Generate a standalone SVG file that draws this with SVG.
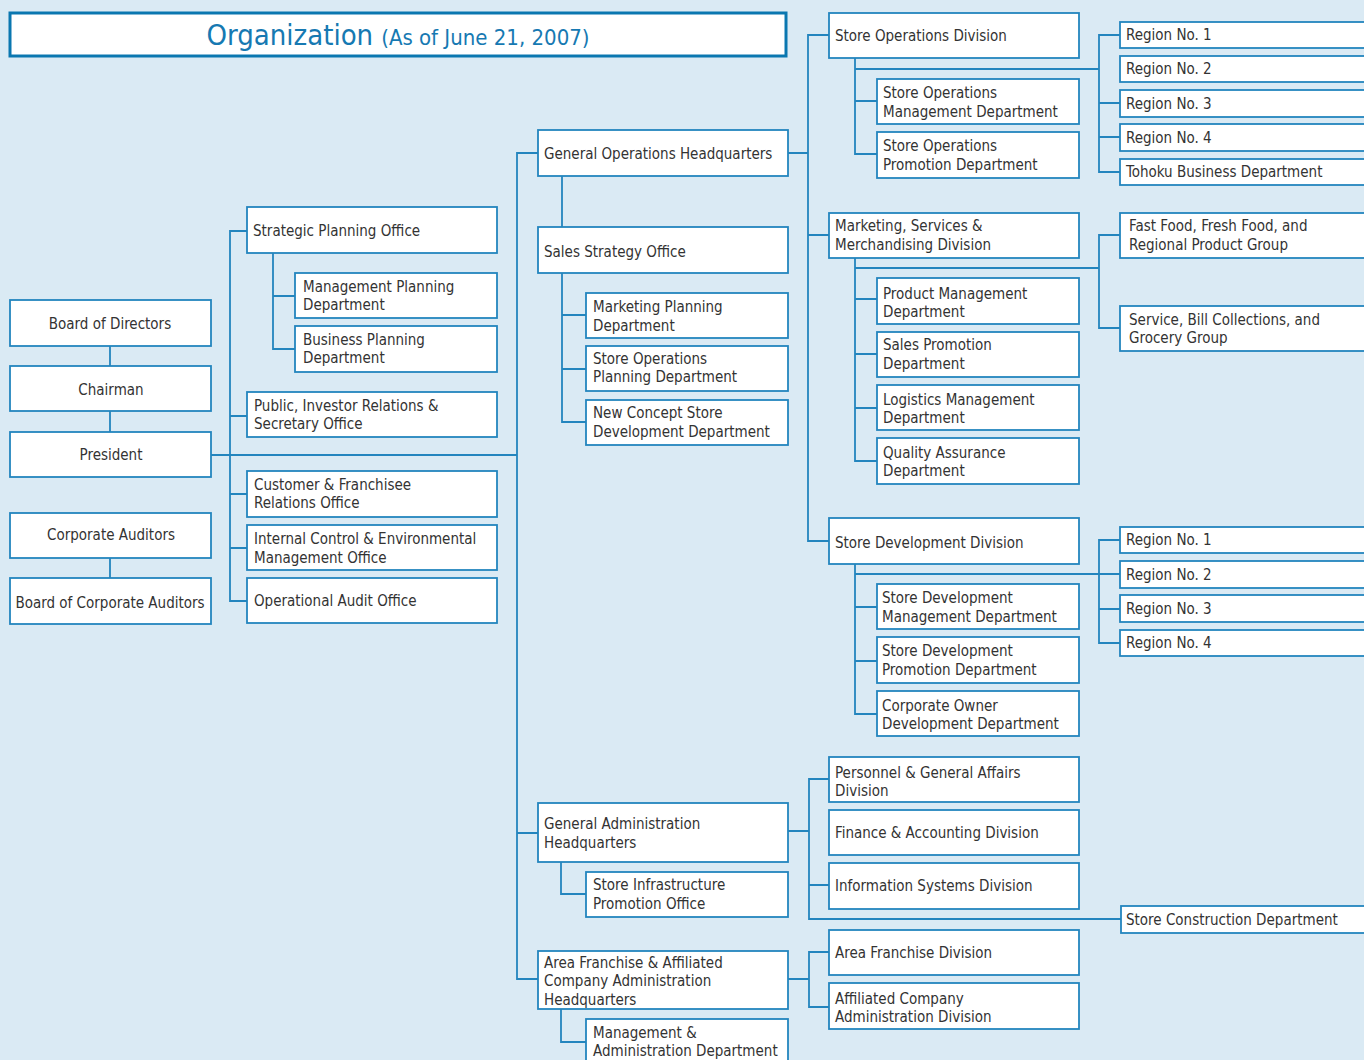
<svg xmlns="http://www.w3.org/2000/svg" width="1364" height="1060" viewBox="0 0 1364 1060">
<style>
.bg{fill:#DAEAF4}
.b{fill:#fff;stroke:#2385BE;stroke-width:1.8}
.ln{fill:none;stroke:#2385BE;stroke-width:1.8}
text{font-family:"DejaVu Sans Condensed","DejaVu Sans",sans-serif;font-stretch:condensed;font-size:15px;fill:#333}
.c{text-anchor:middle}
.title{fill:#1679B2;text-anchor:middle}
</style>
<rect class="bg" x="0" y="0" width="1364" height="1060"/>
<g id="title">
<rect x="10" y="13" width="776" height="43" fill="#fff" stroke="#0A77B0" stroke-width="3"/>
<text class="title" x="398" y="45"><tspan font-size="29px">Organization</tspan><tspan font-size="22px" dx="8">(As of June 21, 2007)</tspan></text>
</g>
<g id="connectors">
<path class="ln" d="M110 346V366M110 411V432M110 558V578M211 455H517"/>
<path class="ln" d="M247 231H230V601H247M230 416H247M230 494H247M230 548H247"/>
<path class="ln" d="M273 253V349H295M273 296H295"/>
<path class="ln" d="M538 153H517V979H538M517 833H538"/>
<path class="ln" d="M562 176V227M562 273V422H586M562 315H586M562 369H586"/>
<path class="ln" d="M788 153H808M829 35H808V541H829M808 235H829"/>
<path class="ln" d="M855 58V154H877M855 101H877M855 69H1099M1120 35H1099V172H1120M1099 103H1120M1099 137H1120"/>
<path class="ln" d="M855 258V461H877M855 299H877M855 354H877M855 408H877M855 268H1099M1120 235H1099V328H1120"/>
<path class="ln" d="M855 564V714H877M855 607H877M855 661H877M855 574H1099M1120 540H1099V643H1120M1099 574H1120M1099 609H1120"/>
<path class="ln" d="M561 862V894H586M788 831H809M829 779H809V919H1121M809 885H829"/>
<path class="ln" d="M788 979H809M829 952H809V1007H829M561 1009V1042H586"/>
</g>
<g id="board-of-directors"><rect class="b" x="10" y="300" width="201" height="46"/><text class="c" x="110" y="329">Board of Directors</text></g>
<g id="chairman"><rect class="b" x="10" y="366" width="201" height="45"/><text class="c" x="111" y="395">Chairman</text></g>
<g id="president"><rect class="b" x="10" y="432" width="201" height="45"/><text class="c" x="111" y="460">President</text></g>
<g id="corporate-auditors"><rect class="b" x="10" y="513" width="201" height="45"/><text class="c" x="111" y="540">Corporate Auditors</text></g>
<g id="board-of-corporate-auditors"><rect class="b" x="10" y="578" width="201" height="46"/><text class="c" x="110" y="608">Board of Corporate Auditors</text></g>

<g id="strategic-planning"><rect class="b" x="247" y="207" width="250" height="46"/><text x="253" y="236">Strategic Planning Office</text></g>
<g id="management-planning"><rect class="b" x="295" y="273" width="202" height="45"/><text x="303"><tspan x="303" y="292">Management Planning</tspan><tspan x="303" y="310">Department</tspan></text></g>
<g id="business-planning"><rect class="b" x="295" y="326" width="202" height="46"/><text><tspan x="303" y="345">Business Planning</tspan><tspan x="303" y="363">Department</tspan></text></g>
<g id="public-relations"><rect class="b" x="247" y="392" width="250" height="45"/><text><tspan x="254" y="411">Public, Investor Relations &amp;</tspan><tspan x="254" y="429">Secretary Office</tspan></text></g>
<g id="customer-relations"><rect class="b" x="247" y="471" width="250" height="46"/><text><tspan x="254" y="490">Customer &amp; Franchisee</tspan><tspan x="254" y="508">Relations Office</tspan></text></g>
<g id="internal-control"><rect class="b" x="247" y="525" width="250" height="45"/><text><tspan x="254" y="544">Internal Control &amp; Environmental</tspan><tspan x="254" y="563">Management Office</tspan></text></g>
<g id="operational-audit"><rect class="b" x="247" y="578" width="250" height="45"/><text x="254" y="606">Operational Audit Office</text></g>

<g id="general-operations-hq"><rect class="b" x="538" y="130" width="250" height="46"/><text x="544" y="159">General Operations Headquarters</text></g>
<g id="sales-strategy"><rect class="b" x="538" y="227" width="250" height="46"/><text x="544" y="257">Sales Strategy Office</text></g>
<g id="marketing-planning"><rect class="b" x="586" y="293" width="202" height="45"/><text><tspan x="593" y="312">Marketing Planning</tspan><tspan x="593" y="331">Department</tspan></text></g>
<g id="store-ops-planning"><rect class="b" x="586" y="346" width="202" height="45"/><text><tspan x="593" y="364">Store Operations</tspan><tspan x="593" y="382">Planning Department</tspan></text></g>
<g id="new-concept-store"><rect class="b" x="586" y="400" width="202" height="45"/><text><tspan x="593" y="418">New Concept Store</tspan><tspan x="593" y="437">Development Department</tspan></text></g>
<g id="general-admin-hq"><rect class="b" x="538" y="803" width="250" height="59"/><text><tspan x="544" y="829">General Administration</tspan><tspan x="544" y="848">Headquarters</tspan></text></g>
<g id="store-infrastructure"><rect class="b" x="586" y="872" width="202" height="45"/><text><tspan x="593" y="890">Store Infrastructure</tspan><tspan x="593" y="909">Promotion Office</tspan></text></g>
<g id="area-franchise-hq"><rect class="b" x="538" y="951" width="250" height="58"/><text><tspan x="544" y="968">Area Franchise &amp; Affiliated</tspan><tspan x="544" y="986">Company Administration</tspan><tspan x="544" y="1005">Headquarters</tspan></text></g>
<g id="management-admin"><rect class="b" x="586" y="1019" width="202" height="50"/><text><tspan x="593" y="1038">Management &amp;</tspan><tspan x="593" y="1056">Administration Department</tspan></text></g>

<g id="store-ops-division"><rect class="b" x="829" y="13" width="250" height="45"/><text x="835" y="41">Store Operations Division</text></g>
<g id="store-ops-management"><rect class="b" x="877" y="79" width="202" height="45"/><text><tspan x="883" y="98">Store Operations</tspan><tspan x="883" y="117">Management Department</tspan></text></g>
<g id="store-ops-promotion"><rect class="b" x="877" y="132" width="202" height="46"/><text><tspan x="883" y="151">Store Operations</tspan><tspan x="883" y="170">Promotion Department</tspan></text></g>
<g id="marketing-division"><rect class="b" x="829" y="213" width="250" height="45"/><text><tspan x="835" y="231">Marketing, Services &amp;</tspan><tspan x="835" y="250">Merchandising Division</tspan></text></g>
<g id="product-management"><rect class="b" x="877" y="278" width="202" height="46"/><text><tspan x="883" y="299">Product Management</tspan><tspan x="883" y="317">Department</tspan></text></g>
<g id="sales-promotion"><rect class="b" x="877" y="332" width="202" height="45"/><text><tspan x="883" y="350">Sales Promotion</tspan><tspan x="883" y="369">Department</tspan></text></g>
<g id="logistics-management"><rect class="b" x="877" y="385" width="202" height="45"/><text><tspan x="883" y="405">Logistics Management</tspan><tspan x="883" y="423">Department</tspan></text></g>
<g id="quality-assurance"><rect class="b" x="877" y="438" width="202" height="46"/><text><tspan x="883" y="458">Quality Assurance</tspan><tspan x="883" y="476">Department</tspan></text></g>
<g id="store-dev-division"><rect class="b" x="829" y="518" width="250" height="46"/><text x="835" y="548">Store Development Division</text></g>
<g id="store-dev-management"><rect class="b" x="877" y="584" width="202" height="45"/><text><tspan x="882" y="603">Store Development</tspan><tspan x="882" y="622">Management Department</tspan></text></g>
<g id="store-dev-promotion"><rect class="b" x="877" y="637" width="202" height="46"/><text><tspan x="882" y="656">Store Development</tspan><tspan x="882" y="675">Promotion Department</tspan></text></g>
<g id="corporate-owner"><rect class="b" x="877" y="691" width="202" height="45"/><text><tspan x="882" y="711">Corporate Owner</tspan><tspan x="882" y="729">Development Department</tspan></text></g>
<g id="personnel"><rect class="b" x="829" y="757" width="250" height="45"/><text><tspan x="835" y="778">Personnel &amp; General Affairs</tspan><tspan x="835" y="796">Division</tspan></text></g>
<g id="finance"><rect class="b" x="829" y="810" width="250" height="45"/><text x="835" y="838">Finance &amp; Accounting Division</text></g>
<g id="information-systems"><rect class="b" x="829" y="863" width="250" height="46"/><text x="835" y="891">Information Systems Division</text></g>
<g id="area-franchise-division"><rect class="b" x="829" y="930" width="250" height="45"/><text x="835" y="958">Area Franchise Division</text></g>
<g id="affiliated-company"><rect class="b" x="829" y="983" width="250" height="46"/><text><tspan x="835" y="1004">Affiliated Company</tspan><tspan x="835" y="1022">Administration Division</tspan></text></g>

<g id="so-region-1"><rect class="b" x="1120" y="22" width="260" height="26"/><text x="1126" y="40">Region No. 1</text></g>
<g id="so-region-2"><rect class="b" x="1120" y="56" width="260" height="26"/><text x="1126" y="74">Region No. 2</text></g>
<g id="so-region-3"><rect class="b" x="1120" y="90" width="260" height="27"/><text x="1126" y="109">Region No. 3</text></g>
<g id="so-region-4"><rect class="b" x="1120" y="124" width="260" height="27"/><text x="1126" y="143">Region No. 4</text></g>
<g id="tohoku"><rect class="b" x="1120" y="159" width="260" height="26"/><text x="1126" y="177">Tohoku Business Department</text></g>
<g id="fast-food"><rect class="b" x="1120" y="213" width="260" height="45"/><text><tspan x="1129" y="231">Fast Food, Fresh Food, and</tspan><tspan x="1129" y="250">Regional Product Group</tspan></text></g>
<g id="service-group"><rect class="b" x="1120" y="306" width="260" height="45"/><text><tspan x="1129" y="325">Service, Bill Collections, and</tspan><tspan x="1129" y="343">Grocery Group</tspan></text></g>
<g id="sd-region-1"><rect class="b" x="1120" y="527" width="260" height="26"/><text x="1126" y="545">Region No. 1</text></g>
<g id="sd-region-2"><rect class="b" x="1120" y="561" width="260" height="27"/><text x="1126" y="580">Region No. 2</text></g>
<g id="sd-region-3"><rect class="b" x="1120" y="595" width="260" height="27"/><text x="1126" y="614">Region No. 3</text></g>
<g id="sd-region-4"><rect class="b" x="1120" y="630" width="260" height="26"/><text x="1126" y="648">Region No. 4</text></g>
<g id="store-construction"><rect class="b" x="1121" y="906" width="260" height="27"/><text x="1126" y="925">Store Construction Department</text></g>
</svg>
